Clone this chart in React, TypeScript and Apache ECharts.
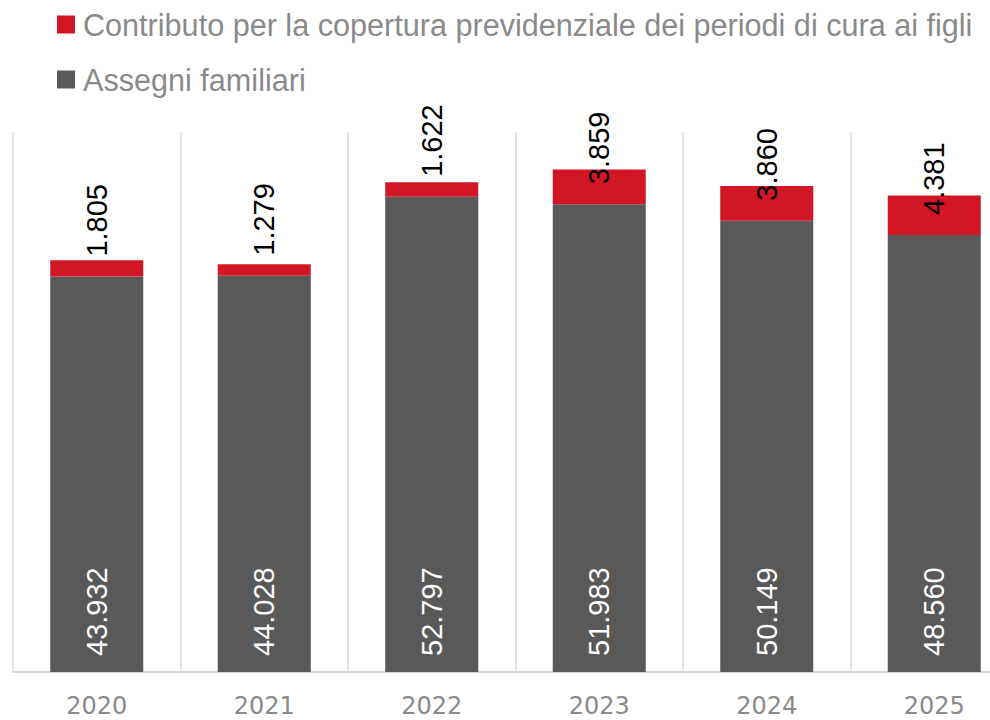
import React, { useEffect, useRef } from "react";
import * as echarts from "echarts";

const years = ["2020", "2021", "2022", "2023", "2024", "2025"];
const assegniFamiliari = [43932, 44028, 52797, 51983, 50149, 48560];
const contributoCura = [1805, 1279, 1622, 3859, 3860, 4381];
const nameAssegni = "Assegni familiari";
const nameContributo = "Contributo per la copertura previdenziale dei periodi di cura ai figli";

const fmt = (v: number) => {
  const s = Math.round(v).toString();
  return s.replace(/\B(?=(\d{3})+(?!\d))/g, ".");
};

export default function App() {
  const ref = useRef<HTMLDivElement>(null);
  useEffect(() => {
    if (!ref.current) return;
    const chart = echarts.init(ref.current, undefined, { renderer: "svg" });
    const font = "'Liberation Sans', Arial, sans-serif";
    chart.setOption({
      animation: false,
      textStyle: { fontFamily: font },
      legend: {
        orient: "vertical",
        left: 52,
        top: 4,
        itemWidth: 18,
        itemHeight: 18,
        itemGap: 24,
        icon: "rect",
        data: [nameContributo, nameAssegni],
        textStyle: { fontSize: 30.6, color: "#8a8a8a", fontFamily: font, padding: [0, 0, 0, 3] },
      },
      grid: { left: 13, top: 132, right: -28, bottom: 48, outerBoundsMode: "none", containLabel: false },
      xAxis: {
        type: "category",
        data: years,
        axisLine: { lineStyle: { color: "#d9d9d9", width: 2 } },
        axisTick: { show: false },
        splitLine: { show: true, lineStyle: { color: "#e3e3e3", width: 2 } },
        axisLabel: { fontSize: 24, color: "#8a8a8a", margin: 22, fontFamily: "'DejaVu Sans', sans-serif" },
      },
      yAxis: {
        type: "value",
        min: 0,
        max: 60000,
        show: false,
        splitLine: { show: false },
      },
      series: [
        {
          name: nameAssegni,
          type: "bar",
          stack: "tot",
          barWidth: 93,
          data: assegniFamiliari,
          itemStyle: { color: "#595959" },
          label: {
            show: true,
            position: "insideBottom",
            distance: 16,
            rotate: 90,
            align: "left",
            verticalAlign: "middle",
            fontSize: 29,
            color: "#ffffff",
            fontFamily: font,
            formatter: (p: any) => fmt(p.value),
          },
        },
        {
          name: nameContributo,
          type: "bar",
          stack: "tot",
          barWidth: 93,
          data: contributoCura,
          itemStyle: { color: "#d11626" },
          label: {
            show: true,
            position: "insideBottom",
            distance: 20,
            rotate: 90,
            align: "left",
            verticalAlign: "middle",
            fontSize: 29,
            color: "#000000",
            fontFamily: font,
            formatter: (p: any) => fmt(p.value),
          },
        },
      ],
    });
    return () => chart.dispose();
  }, []);
  return (
    <div
      ref={ref}
      style={{ position: "fixed", left: 0, top: 0, width: 990, height: 720, background: "#ffffff" }}
    />
  );
}
